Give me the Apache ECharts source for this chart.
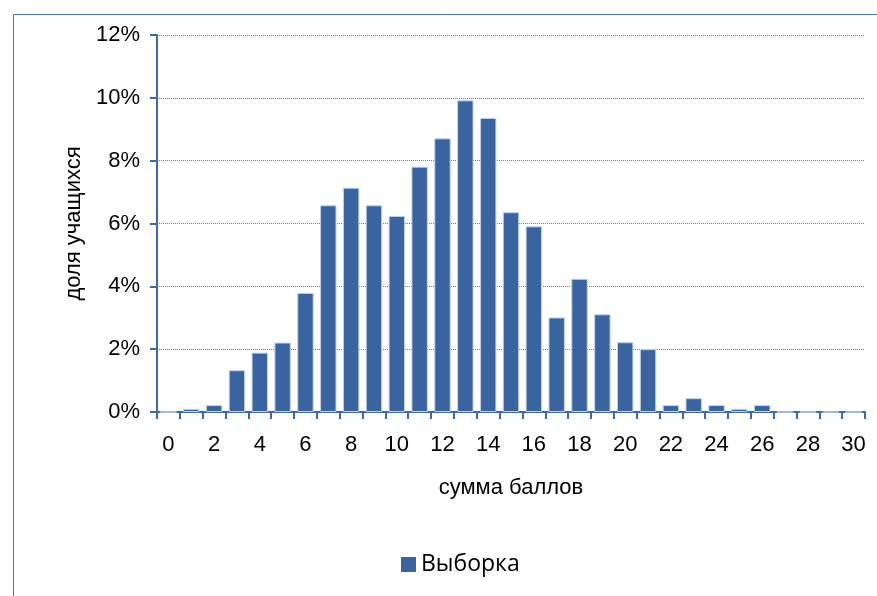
<!DOCTYPE html>
<html>
<head>
<meta charset="utf-8">
<script src="https://cdn.jsdelivr.net/npm/echarts@6/dist/echarts.min.js"></script>
<style>
html,body{margin:0;padding:0;background:#fff;}
#c{width:877px;height:596px;}
</style>
</head>
<body>
<div id="c"></div>
<script>
const categories = ['0','1','2','3','4','5','6','7','8','9','10','11','12','13','14','15','16','17','18','19','20','21','22','23','24','25','26','27','28','29','30'];
const values = [0,0.1,0.22,1.33,1.89,2.21,3.79,6.58,7.14,6.58,6.24,7.81,8.71,9.92,9.36,6.36,5.91,3.01,4.24,3.11,2.22,2.0,0.22,0.44,0.22,0.1,0.22,0,0,0,0];
const seriesName = 'Выборка';
const xName = 'сумма баллов';
const yName = 'доля учащихся';

const narrow = "'Liberation Sans Narrow','Liberation Sans',Arial,sans-serif";
const chart = echarts.init(document.getElementById('c'));
chart.setOption({
  animation: false,
  graphic: [{
    type: 'rect', left: 11, top: 12,
    shape: {width: 870, height: 600},
    style: {fill: 'none', stroke: '#4a76b5', lineWidth: 1},
    silent: true, z: -1
  }],
  grid: {left: 157, right: 12, top: 35, bottom: 184, containLabel: false},
  legend: {
    data: [seriesName], left: 396, top: 548,
    itemWidth: 15, itemHeight: 15, itemGap: 6,
    itemStyle: {borderWidth: 0, color: '#3a64a0'},
    textStyle: {fontFamily: "'Open Sans','Noto Sans',sans-serif", fontSize: 23, color: '#000'},
    icon: 'rect'
  },
  xAxis: {
    type: 'category', data: categories, boundaryGap: true,
    name: xName, nameLocation: 'middle', nameGap: 65,
    nameTextStyle: {fontFamily: narrow, fontSize: 22, color: '#000'},
    axisLine: {lineStyle: {color: '#3f6aa8', width: 2}},
    axisTick: {show: true, alignWithLabel: false, interval: 0, length: 7, lineStyle: {color: '#3f6aa8', width: 2}},
    axisLabel: {interval: 1, margin: 22, fontFamily: narrow, fontSize: 22, color: '#000'},
    splitLine: {show: false}
  },
  yAxis: {
    type: 'value', min: 0, max: 12, interval: 2,
    name: yName, nameLocation: 'middle', nameGap: 72, nameRotate: 90,
    nameTextStyle: {fontFamily: narrow, fontSize: 22, color: '#000'},
    axisLine: {show: true, lineStyle: {color: '#3f6aa8', width: 2}},
    axisTick: {show: true, length: 7, lineStyle: {color: '#3f6aa8', width: 2}},
    axisLabel: {formatter: v => v + '%', margin: 17, fontFamily: narrow, fontSize: 22, color: '#000'},
    splitLine: {lineStyle: {color: '#1e9dcc', type: 'dotted', width: 1}}
  },
  series: [{
    name: seriesName, type: 'bar', data: values,
    barCategoryGap: '28%',
    itemStyle: {color: '#3a64a0', borderColor: '#c5d2e6', borderWidth: 1}
  }]
});
</script>
</body>
</html>
